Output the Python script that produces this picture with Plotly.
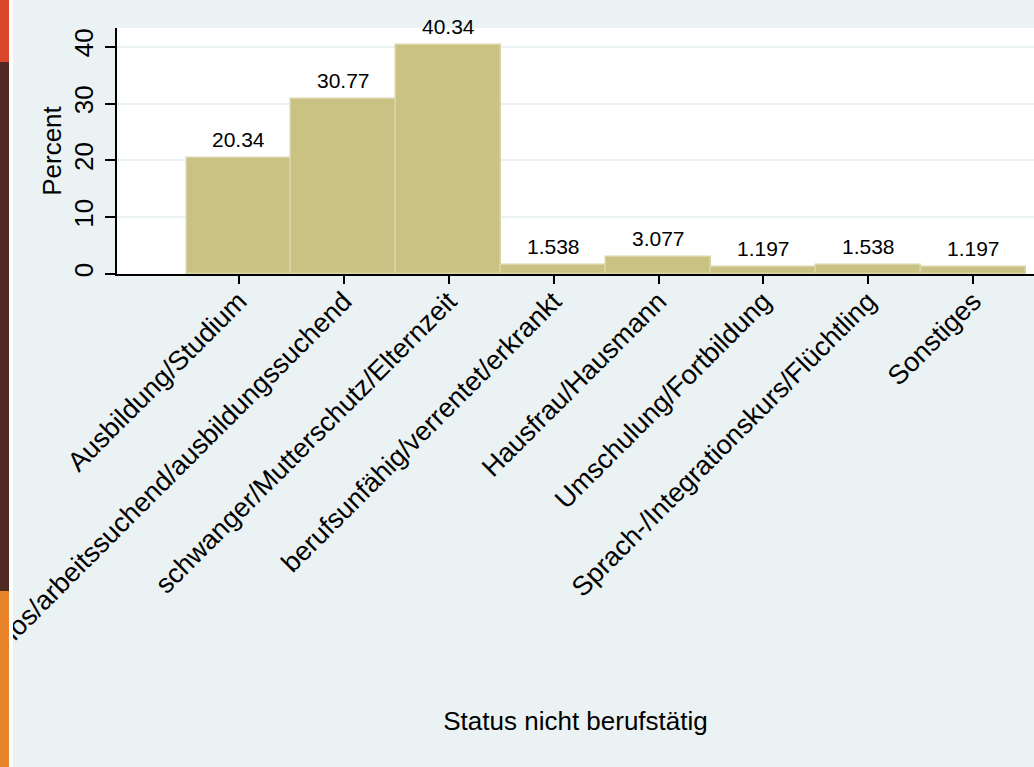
import plotly.graph_objects as go

categories = [
    "Ausbildung/Studium",
    "arbeitslos/arbeitssuchend/ausbildungssuchend",
    "schwanger/Mutterschutz/Elternzeit",
    "berufsunfähig/verrentet/erkrankt",
    "Hausfrau/Hausmann",
    "Umschulung/Fortbildung",
    "Sprach-/Integrationskurs/Flüchtling",
    "Sonstiges",
]
percent = [20.34, 30.77, 40.34, 1.538, 3.077, 1.197, 1.538, 1.197]
y_ticks = [0, 10, 20, 30, 40]

FONT = "Liberation Sans, Arial, Helvetica, sans-serif"
BG = "#EAF2F3"

W, H = 1034, 767
L, T, B = 117, 28, 274  # plot area edges in pixels


def px_x(p):
    return (p - L) / (W - L)


def px_y(p):
    return (B - p) / (B - T)


fig = go.Figure()
fig.add_trace(go.Bar(
    x=categories, y=percent, width=1,
    marker=dict(color="#CAC282", line=dict(color="#DAD5A6", width=1.5)),
    hoverinfo="x+y",
))

# value labels on top of the bars
for c, v in zip(categories, percent):
    fig.add_annotation(x=c, y=v, text="{:.4g}".format(v), showarrow=False,
                       yanchor="bottom", yshift=5,
                       font=dict(family=FONT, size=21, color="black"))

# left colour strip of the page (decoration in the screenshot)
strip = [(0, 62, "#D9482B"), (62, 591, "#4E2A22"), (591, 767, "#E8832B")]
for y0, y1, col in strip:
    fig.add_shape(type="rect", xref="paper", yref="paper", layer="above",
                  x0=px_x(0), x1=px_x(9), y0=px_y(y0), y1=px_y(y1),
                  fillcolor=col, line_width=0)
fig.add_shape(type="rect", xref="paper", yref="paper", layer="above",
              x0=px_x(9), x1=px_x(13), y0=px_y(0), y1=px_y(H),
              fillcolor="white", line_width=0)

fig.update_layout(
    width=W, height=H,
    margin=dict(l=L, r=0, t=T, b=H - B, autoexpand=False),
    paper_bgcolor=BG, plot_bgcolor="white",
    font=dict(family=FONT, size=27, color="black"),
    bargap=0, showlegend=False,
)
fig.update_xaxes(
    type="category", range=[-1.163, 7.58],
    tickangle=-45, ticks="outside", ticklen=8, tickwidth=1.5, tickcolor="black",
    ticklabelstandoff=-9,
    showline=True, linecolor="black", linewidth=1.5,
    showgrid=False, zeroline=False,
    title=dict(text="Status nicht berufstätig", standoff=9,
               font=dict(family=FONT, size=26)),
    tickfont=dict(family=FONT, size=27),
)
fig.update_yaxes(
    range=[0, 43.3], tickvals=y_ticks, tickangle=-90,
    ticks="outside", ticklen=10, tickwidth=1.5, tickcolor="black",
    ticklabelstandoff=2,
    showline=True, linecolor="black", linewidth=1.5,
    showgrid=True, gridcolor=BG, gridwidth=1.5, zeroline=False,
    title=dict(text="Percent", standoff=0, font=dict(family=FONT, size=26)),
    tickfont=dict(family=FONT, size=26),
)

# page body has a default margin; drop it so the figure sits at the corner
fig.write_html("out.html", config={"displayModeBar": False},
               post_script="document.body.style.margin='0';")
